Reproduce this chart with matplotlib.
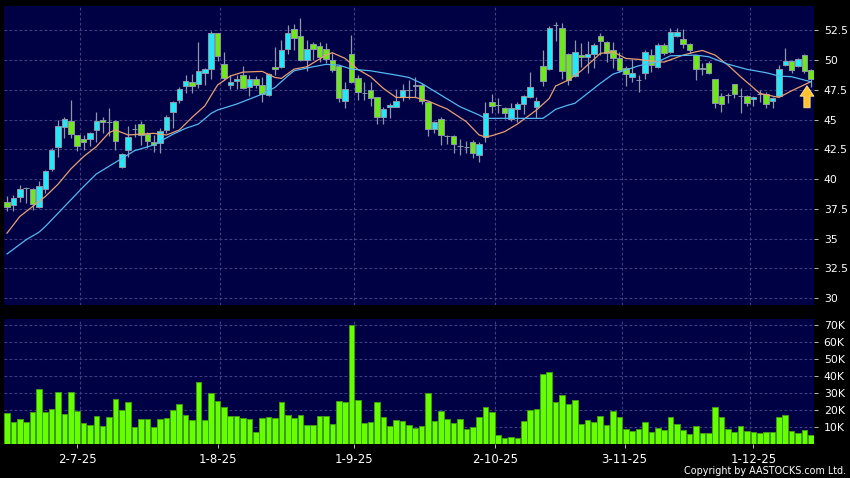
import matplotlib
matplotlib.use("Agg")
import matplotlib.pyplot as plt

# daily prices
opens = [38.05, 37.80, 38.53, 39.26, 39.15, 37.63, 39.15, 40.88, 42.67, 44.38,
         44.91, 43.74, 43.37, 43.37, 44.10, 45.00, 44.80, 44.91, 41.00, 42.42,
         44.21, 44.66, 43.82, 43.12, 43.07, 44.10, 45.61, 46.62, 47.80, 48.16,
         47.97, 48.89, 49.25, 52.25, 49.70, 47.88, 48.22, 48.78, 47.74, 48.44,
         47.91, 47.04, 49.45, 49.42, 50.93, 52.59, 52.05, 49.98, 51.33, 51.21,
         50.96, 50.04, 49.48, 46.54, 50.49, 48.47, 47.21, 47.52, 46.87, 45.19,
         46.03, 46.09, 46.93, 47.52, 47.94, 47.94, 46.51, 44.19, 45.03, 43.63,
         43.60, 42.79, 42.73, 43.15, 42.00, 43.51, 46.51, 46.20, 46.01, 45.08,
         45.87, 46.29, 46.90, 46.03, 49.48, 49.23, 52.92, 52.73, 50.54, 48.67,
         50.43, 50.23, 50.49, 52.00, 51.49, 50.85, 50.21, 49.37, 48.55, 48.33,
         48.95, 50.46, 49.45, 51.30, 50.68, 52.00, 51.80, 51.38, 50.40, 49.23,
         49.73, 48.44, 47.01, 47.07, 47.97, 47.01, 46.99, 46.71, 47.15, 47.15,
         46.54, 47.01, 49.56, 49.95, 49.51, 50.46, 49.20]
closes = [37.69, 38.39, 39.15, 39.26, 37.89, 39.45, 40.66, 42.45, 44.49, 45.03,
          43.77, 42.76, 43.09, 43.85, 44.91, 44.80, 44.80, 43.18, 42.09, 43.57,
          44.21, 43.74, 43.18, 42.87, 44.07, 45.19, 46.51, 47.60, 48.27, 47.80,
          49.11, 49.23, 52.33, 50.35, 48.47, 48.19, 48.44, 47.63, 48.41, 47.88,
          47.18, 48.83, 49.23, 50.88, 52.33, 51.91, 49.98, 50.96, 50.96, 50.23,
          50.07, 49.14, 46.79, 47.55, 48.13, 47.35, 47.21, 46.85, 45.19, 45.92,
          46.26, 46.59, 47.52, 47.52, 47.80, 46.57, 44.19, 44.83, 43.68, 43.63,
          42.93, 42.79, 42.73, 42.17, 42.98, 45.59, 46.17, 46.20, 45.59, 45.98,
          46.34, 47.01, 47.77, 46.59, 48.22, 52.73, 52.92, 49.06, 48.30, 50.65,
          50.26, 50.54, 51.27, 51.58, 50.57, 50.15, 49.14, 48.83, 48.95, 48.33,
          50.71, 49.56, 51.30, 50.57, 52.39, 52.39, 51.33, 50.88, 49.23, 49.37,
          48.89, 46.37, 46.29, 47.07, 47.13, 47.01, 46.37, 46.93, 47.15, 46.29,
          46.82, 49.23, 49.95, 49.14, 50.12, 49.06, 48.39]
highs = [38.61, 38.67, 39.51, 39.31, 39.23, 39.87, 40.77, 42.59, 44.97, 45.25,
         46.65, 43.74, 43.71, 43.99, 45.67, 45.25, 45.95, 44.97, 42.23, 44.47,
         44.63, 44.89, 43.99, 43.71, 44.27, 45.39, 46.57, 47.71, 48.75, 48.83,
         51.49, 49.31, 52.47, 52.31, 50.71, 48.75, 48.75, 49.51, 48.75, 48.67,
         48.61, 48.95, 51.07, 51.69, 52.95, 53.03, 53.51, 51.69, 51.55, 51.49,
         51.41, 50.57, 49.53, 48.19, 52.11, 48.75, 48.19, 48.19, 46.93, 46.03,
         46.37, 47.60, 47.99, 48.33, 48.55, 48.05, 46.57, 44.91, 45.19, 43.71,
         43.71, 43.37, 43.23, 43.29, 43.15, 46.51, 47.15, 46.79, 46.09, 46.37,
         46.51, 47.07, 48.97, 46.93, 50.85, 52.87, 53.23, 53.09, 50.57, 51.69,
         51.41, 51.63, 51.41, 52.33, 51.63, 51.55, 50.71, 49.51, 50.07, 48.75,
         50.85, 50.91, 51.47, 51.47, 52.67, 52.67, 52.59, 51.41, 50.43, 49.73,
         49.93, 48.44, 47.27, 47.21, 47.97, 47.63, 47.07, 47.01, 47.49, 47.35,
         46.93, 49.59, 50.99, 50.01, 50.18, 50.49, 49.25]
lows = [37.35, 37.35, 38.08, 37.97, 37.41, 37.55, 38.87, 40.71, 41.89, 43.43,
        43.43, 42.39, 42.45, 42.79, 43.15, 43.85, 43.63, 42.45, 40.91, 41.89,
        43.57, 42.87, 42.59, 42.31, 42.23, 43.91, 44.27, 46.37, 47.27, 47.27,
        47.63, 47.91, 48.41, 49.93, 48.33, 47.55, 47.55, 47.55, 46.99, 47.63,
        46.51, 46.99, 48.75, 49.31, 50.49, 50.85, 49.93, 49.11, 50.01, 49.87,
        49.73, 49.03, 46.51, 46.01, 48.05, 46.65, 46.65, 46.15, 44.63, 44.63,
        45.11, 46.03, 46.59, 46.71, 46.93, 46.31, 43.65, 43.91, 42.87, 42.93,
        42.23, 42.03, 42.23, 41.81, 41.47, 43.15, 45.53, 45.59, 45.03, 44.91,
        44.83, 45.47, 46.79, 45.11, 47.85, 49.17, 51.63, 48.44, 47.91, 48.61,
        49.45, 48.95, 49.31, 50.43, 49.87, 49.31, 49.03, 47.83, 48.19, 47.35,
        48.44, 49.03, 49.37, 50.43, 50.63, 51.97, 50.99, 50.57, 48.33, 48.75,
        48.81, 45.95, 45.67, 46.37, 46.79, 45.59, 46.15, 46.15, 46.51, 45.95,
        45.95, 46.93, 49.51, 48.95, 49.45, 48.95, 47.77]
volumes = [17.8, 12.5, 14.7, 12.5, 18.8, 32.0, 18.8, 20.4, 30.2, 17.6,
           30.2, 19.2, 12.0, 11.0, 16.0, 10.4, 15.7, 26.3, 19.6, 24.3,
           10.0, 14.7, 14.7, 10.0, 14.7, 15.1, 20.0, 23.5, 17.0, 13.7,
           36.5, 14.1, 29.6, 25.0, 21.4, 16.5, 16.0, 15.1, 14.5, 7.0,
           15.3, 15.9, 15.1, 24.5, 16.9, 15.3, 17.0, 10.8, 11.0, 16.0,
           16.5, 11.4, 24.9, 24.3, 70.0, 25.5, 12.4, 12.9, 24.7, 15.9,
           10.4, 13.7, 13.1, 10.8, 9.4, 10.6, 29.6, 13.3, 19.2, 14.5,
           12.2, 14.5, 8.4, 10.0, 15.7, 21.4, 18.8, 4.9, 3.3, 3.7,
           3.5, 13.5, 19.8, 20.4, 40.8, 42.2, 24.5, 28.6, 23.3, 25.9,
           11.8, 13.7, 12.5, 16.5, 11.0, 19.2, 15.9, 8.8, 7.6, 8.4,
           12.9, 6.9, 9.2, 8.0, 15.5, 11.8, 8.0, 5.9, 10.6, 6.1,
           6.1, 21.4, 15.7, 8.6, 6.9, 10.4, 7.3, 6.9, 6.1, 6.9,
           6.9, 15.7, 16.7, 7.3, 6.5, 8.0, 5.1]

# moving averages, sampled along the lines
ma_fast_x = [0, 2, 4, 6, 8, 10, 12, 14, 16, 17, 19, 23, 25, 27, 29, 31, 33, 35, 37, 40,
             42, 43, 45, 47, 50, 51, 53, 55, 57, 59, 61, 64, 66, 69, 72, 74, 75, 76, 78, 80,
             83, 85, 86, 88, 90, 92, 93, 95, 97, 99, 101, 103, 106, 108, 109, 111, 113, 115,
             118, 121, 123, 126]
ma_fast = [35.45, 36.85, 37.69, 38.53, 39.57, 40.85, 41.89, 42.73, 43.91, 44.13, 43.71, 43.85,
           43.71, 44.13, 45.19, 46.15, 47.91, 48.67, 49.00, 49.06, 48.55, 48.47, 49.25, 49.45,
           50.43, 50.63, 50.15, 49.23, 48.61, 47.63, 46.87, 46.87, 46.57, 45.89, 44.83, 43.71,
           43.54, 43.65, 43.99, 44.63, 45.81, 46.79, 47.83, 48.33, 49.11, 50.07, 50.57, 50.71,
           50.15, 50.07, 49.93, 49.84, 50.43, 50.71, 50.82, 50.43, 49.59, 48.61, 47.21, 46.87,
           47.43, 48.19]
ma_slow_x = [0, 3, 5, 6, 8, 10, 12, 14, 17, 20, 23, 26, 28, 30, 32, 33, 36, 38, 40, 42, 44,
             45, 48, 50, 52, 54, 57, 61, 63, 65, 68, 71, 74, 75, 84, 85, 86, 88, 89, 91, 93,
             95, 97, 99, 102, 104, 108, 110, 113, 116, 119, 121, 123, 126]
ma_slow = [33.70, 34.90, 35.53, 36.01, 37.13, 38.25, 39.37, 40.43, 41.41, 42.39, 42.87, 43.77,
           44.27, 44.63, 45.53, 45.81, 46.31, 46.73, 47.15, 47.71, 48.67, 49.11, 49.45, 49.65,
           49.59, 49.25, 49.11, 48.75, 48.55, 48.05, 47.07, 46.09, 45.39, 45.11, 45.11, 45.47,
           45.87, 46.23, 46.37, 47.21, 48.05, 48.83, 49.17, 49.53, 49.87, 50.37, 50.43, 50.29,
           49.67, 49.23, 48.95, 48.67, 48.61, 48.19]

price_ticks = [52.5, 50, 47.5, 45, 42.5, 40, 37.5, 35, 32.5, 30]
price_labels = ["52.5", "50", "47.5", "45", "42.5", "40", "37.5", "35", "32.5", "30"]
vol_ticks = [10, 20, 30, 40, 50, 60, 70]
vol_labels = ["10K", "20K", "30K", "40K", "50K", "60K", "70K"]
date_labels = ["2-7-25", "1-8-25", "1-9-25", "2-10-25", "3-11-25", "1-12-25"]
date_ticks = [11.0, 33.1, 54.4, 76.5, 96.8, 117.0]
date_grid = [11.44, 33.4, 54.4, 76.5, 96.4, 116.5]

BG = "#000045"
GRID = "#3f3f82"
UP = "#22e8f8"
DOWN = "#6fe81a"
EDGE = "#8c98a8"

W, H = 850, 478
fig = plt.figure(figsize=(W / 100, H / 100), dpi=100, facecolor="black")
ax = fig.add_axes([4 / W, 1 - 305 / H, 810 / W, 299 / H], facecolor=BG)
ax2 = fig.add_axes([4 / W, 1 - 443.7 / H, 810 / W, 124.7 / H], facecolor=BG)

xs = list(range(len(opens)))

# candles
ax.vlines(xs, lows, highs, color=EDGE, linewidth=0.9, zorder=3)
for x, o, c in zip(xs, opens, closes):
    if c > o:
        col = UP
    elif c < o:
        col = DOWN
    else:
        col = EDGE
    ax.bar(x, abs(c - o), bottom=min(o, c), width=0.86, facecolor=col,
           edgecolor=EDGE, linewidth=0.7, zorder=4)

ax.plot(ma_fast_x, ma_fast, color="#e8a070", linewidth=0.9, zorder=5)
ax.plot(ma_slow_x, ma_slow, color="#55b8f0", linewidth=0.9, zorder=5)

# arrow on the last day
ax.annotate("", xy=(125.4, 47.85), xytext=(125.4, 46.0), zorder=6,
            arrowprops=dict(width=4.5, headwidth=10, headlength=7.5, shrink=0,
                            facecolor="#ffc22e", edgecolor="#ffe9a0", linewidth=0.6))

# volume
ax2.bar(xs, volumes, width=0.88, facecolor="#66ff00", edgecolor="#3f9c10",
        linewidth=0.7, zorder=3)

for a in (ax, ax2):
    a.set_xlim(-0.47, 126.5)
    a.set_xticks(date_grid)
    a.grid(True, color=GRID, linestyle=(0, (2.5, 2)), linewidth=0.8)
    a.set_axisbelow(True)
    a.yaxis.tick_right()
    a.tick_params(axis="y", colors="white", labelsize=7.8, length=3, width=0.7, pad=4,
                  color="#bbbbbb")
    a.tick_params(axis="x", length=0, labelbottom=False)
    for s in a.spines.values():
        s.set_visible(False)

ax.set_ylim(29.41, 54.56)
ax.set_yticks(price_ticks)
ax.set_yticklabels(price_labels)

ax2.set_ylim(0, 73.35)
ax2.set_yticks(vol_ticks)
ax2.set_yticklabels(vol_labels)

# date labels sit slightly off the grid lines, same as the original
sec = ax2.secondary_xaxis("bottom")
sec.set_xticks(date_ticks)
sec.set_xticklabels(date_labels)
sec.tick_params(axis="x", colors="white", labelsize=8.5, length=3, width=0.7, pad=4,
                color="#bbbbbb")
sec.spines["bottom"].set_visible(False)

fig.text(846 / W, 1 - 471 / H, "Copyright by AASTOCKS.com Ltd.", color="white", fontsize=6.9,
         ha="right", va="center")

fig.savefig("out.png", dpi=100, facecolor="black")
